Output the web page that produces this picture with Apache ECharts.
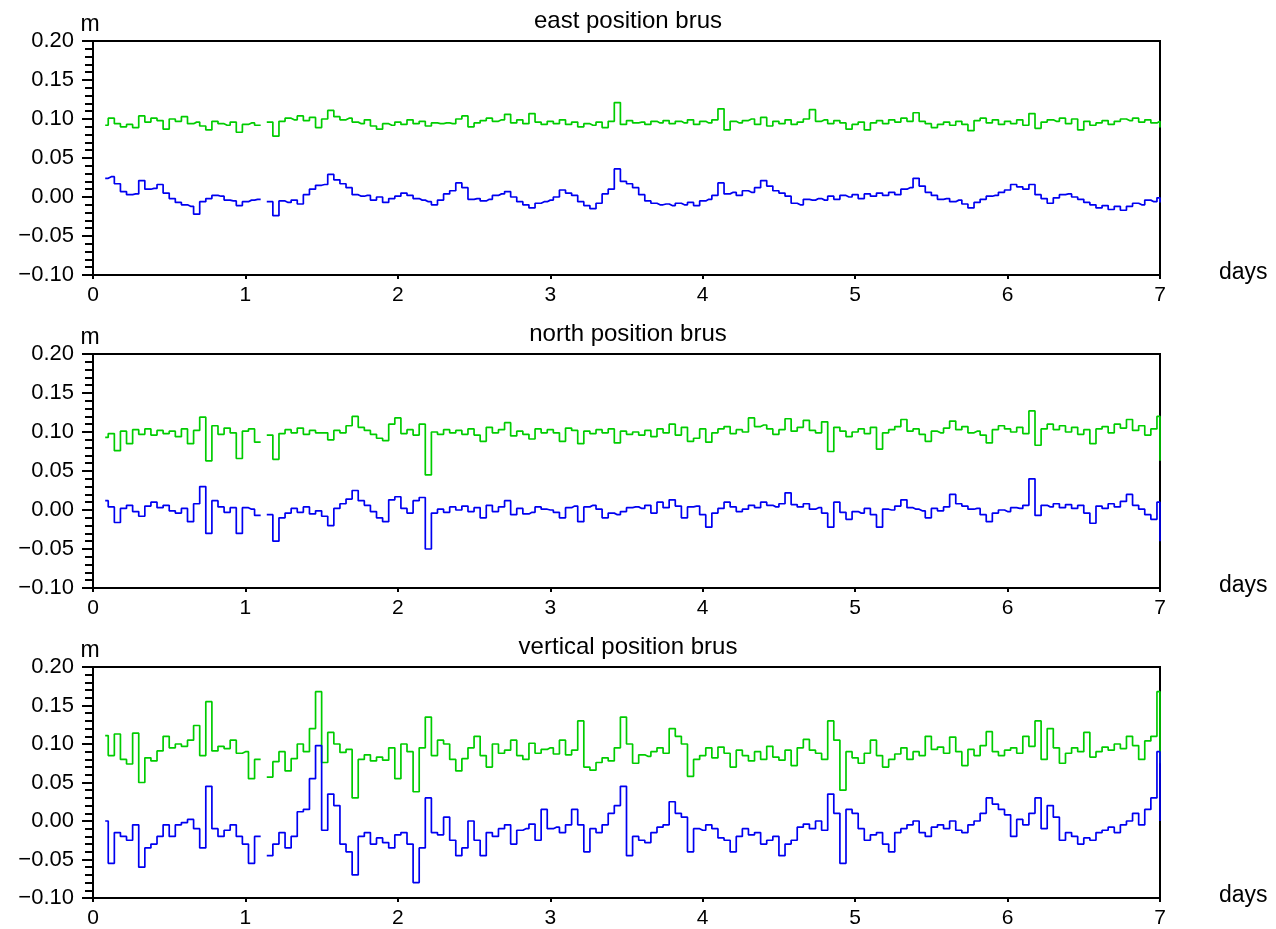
<!DOCTYPE html>
<html><head><meta charset="utf-8">
<script src="https://cdn.jsdelivr.net/npm/echarts@6/dist/echarts.min.js"></script>
<style>html,body{margin:0;padding:0;background:#fff}#c{width:1276px;height:929px}</style>
</head><body><div id="c"></div>
<script>
// Panel titles and axis labels
const panelTitles = ['east position brus', 'north position brus', 'vertical position brus'];
const xTickValues = [0, 1, 2, 3, 4, 5, 6, 7];
const yTickValues = [-0.10, -0.05, 0.00, 0.05, 0.10, 0.15, 0.20];

// Values in metres. Chunk 0 covers 0.08..0.96 d (step 0.04),
// chunks 1..6 cover d+0.00..d+0.96, last chunk holds the value(s) at 7.00 d.
const eastGreen = [
 [.092,.101,.094,.090,.093,.089,.104,.096,.101,.098,.087,.100,.097,.103,.094,.096,.091,.086,.097,.094,.092,.096,.083],
 [.093,.095,.092,null,.096,.078,.097,.101,.099,.104,.098,.102,.089,.100,.111,.103,.099,.101,.096,.094,.099,.091,.087,.094,.092],
 [.096,.093,.099,.094,.097,.091,.095,.094,.095,.094,.100,.104,.090,.095,.098,.101,.097,.099,.106,.095,.099,.094,.107,.096,.093],
 [.097,.094,.099,.093,.096,.090,.094,.092,.096,.089,.097,.121,.093,.098,.095,.096,.093,.097,.095,.098,.094,.097,.095,.099,.093],
 [.097,.095,.099,.113,.086,.097,.095,.098,.100,.093,.102,.091,.097,.094,.099,.093,.096,.100,.112,.097,.099,.094,.098,.095,.087],
 [.093,.096,.086,.095,.098,.094,.099,.096,.101,.097,.108,.097,.094,.089,.093,.096,.092,.097,.093,.085,.098,.101,.095,.099,.093],
 [.097,.094,.099,.092,.107,.088,.096,.099,.097,.101,.094,.100,.086,.097,.092,.095,.098,.093,.097,.100,.098,.101,.096,.099,.095],
 [.097,.089]
];
const eastBlue = [
 [.024,.026,.017,.007,.003,.004,.021,.010,.011,.016,.005,-.002,-.007,-.010,-.012,-.022,-.006,-.002,.002,.001,-.004,-.005,-.011],
 [-.006,-.004,-.003,null,-.006,-.024,-.005,-.007,-.004,-.009,.003,.010,.015,.016,.029,.022,.017,.012,.003,.001,.002,-.004,.000,-.007,-.002],
 [.001,.005,.002,-.002,-.004,-.006,-.010,-.004,.004,.008,.018,.012,-.003,-.002,-.005,-.003,.002,.004,.007,.000,-.006,-.010,-.014,-.008,-.006],
 [-.004,.000,.009,.005,.002,-.006,-.011,-.015,-.008,.004,.010,.036,.020,.017,.012,.003,-.005,-.008,-.010,-.009,-.011,-.008,-.010,-.007,-.011],
 [-.005,-.003,.002,.018,.004,.006,.002,.008,.006,.012,.021,.014,.008,.005,.001,-.008,-.010,-.003,-.004,-.002,-.004,.001,-.003,.002,.000],
 [.003,-.002,.004,.001,.005,.002,.006,.003,.010,.012,.024,.014,.006,.002,-.003,-.002,-.006,-.004,-.009,-.014,-.007,-.003,.001,.002,.006],
 [.009,.016,.013,.010,.016,.003,-.002,-.008,-.001,.003,.004,.000,-.003,-.007,-.010,-.014,-.011,-.016,-.012,-.017,-.012,-.008,-.010,-.004,-.006],
 [-.001,-.007]
];
const northGreen = [
 [.093,.098,.076,.101,.085,.103,.097,.104,.096,.102,.098,.101,.094,.104,.085,.102,.119,.063,.108,.097,.105,.099,.066],
 [.101,.104,.087,null,.096,.065,.098,.103,.099,.105,.097,.102,.099,.099,.090,.102,.099,.108,.120,.106,.102,.097,.092,.089,.110],
 [.118,.098,.103,.096,.110,.045,.100,.097,.103,.099,.102,.097,.104,.096,.088,.106,.099,.103,.112,.095,.101,.097,.091,.104,.099],
 [.103,.099,.088,.105,.102,.085,.101,.098,.103,.099,.104,.086,.101,.097,.100,.096,.102,.094,.104,.099,.110,.096,.106,.088,.092],
 [.104,.087,.099,.104,.107,.098,.103,.100,.118,.107,.109,.104,.097,.103,.117,.101,.106,.115,.102,.099,.113,.075,.106,.101,.094],
 [.100,.104,.098,.106,.078,.099,.103,.107,.116,.101,.104,.097,.088,.101,.099,.105,.114,.103,.107,.099,.101,.096,.086,.103,.108],
 [.104,.100,.106,.098,.127,.083,.104,.110,.103,.108,.100,.106,.097,.103,.085,.104,.107,.099,.110,.105,.116,.102,.108,.096,.104],
 [.120,.063]
];
const northBlue = [
 [.012,.004,-.016,.002,.006,-.002,-.008,.005,.010,.003,.006,-.001,-.004,.002,-.015,.008,.030,-.030,.012,.004,-.003,.003,-.030],
 [.003,.001,-.007,null,-.006,-.040,-.010,-.004,.002,-.003,.004,-.005,-.001,-.008,-.020,.002,.008,.014,.025,.012,.006,-.002,-.010,-.015,.013],
 [.017,.002,-.004,.012,.016,-.050,-.004,.001,-.003,.004,.000,.005,-.002,.003,-.010,.006,-.002,.004,.012,-.006,.002,-.005,-.003,.004,.001],
 [.000,-.003,-.010,.003,.005,-.015,.004,.006,.001,-.010,-.004,-.006,-.002,.003,.004,.002,.006,-.004,.010,.003,.013,.005,-.010,.004,.005],
 [-.006,-.022,-.004,.002,.010,.004,-.002,.001,.006,.003,.010,.006,.004,.008,.022,.007,.004,.008,.001,.003,-.004,-.022,.010,-.003,-.012],
 [-.002,-.004,.002,-.006,-.022,.001,.000,.005,.013,.003,.001,-.001,-.010,.002,-.001,.004,.020,.008,.005,.001,.002,-.006,-.015,-.004,.000],
 [-.002,.003,.002,.006,.040,-.007,.006,.004,.008,.003,.007,.002,.006,-.004,-.017,.005,.002,.008,.004,.011,.020,.006,.001,-.006,-.012],
 [.010,-.040]
];
const verticalGreen = [
 [.111,.085,.113,.080,.074,.114,.050,.082,.078,.091,.110,.095,.100,.097,.105,.124,.085,.155,.091,.097,.094,.105,.088],
 [.090,.055,.080,null,.057,.077,.090,.065,.081,.100,.090,.120,.168,.076,.115,.100,.089,.093,.030,.080,.086,.078,.083,.079,.095],
 [.055,.100,.090,.038,.095,.135,.085,.105,.100,.080,.065,.081,.095,.110,.085,.070,.100,.088,.092,.105,.085,.080,.101,.088,.093],
 [.095,.087,.105,.086,.092,.130,.070,.066,.076,.082,.078,.095,.135,.100,.075,.086,.084,.090,.095,.088,.120,.110,.100,.058,.080],
 [.085,.095,.082,.096,.088,.070,.092,.085,.078,.090,.080,.097,.083,.079,.092,.072,.095,.106,.092,.088,.080,.130,.105,.040,.090],
 [.082,.075,.088,.105,.085,.070,.080,.087,.095,.080,.090,.085,.110,.093,.096,.088,.109,.090,.072,.093,.085,.098,.116,.090,.085],
 [.092,.095,.088,.110,.097,.130,.080,.120,.095,.075,.088,.095,.090,.115,.083,.090,.096,.092,.100,.094,.110,.098,.080,.104,.110],
 [.168,.075]
];
const verticalBlue = [
 [.000,-.055,-.015,-.020,-.025,-.005,-.060,-.035,-.030,-.020,-.005,-.020,-.005,-.002,.002,-.010,-.035,.045,-.010,-.020,-.012,-.005,-.020],
 [-.030,-.055,-.020,null,-.045,-.030,-.015,-.035,-.020,.012,.015,.055,.098,-.012,.035,.020,-.030,-.040,-.070,-.020,-.015,-.030,-.022,-.028,-.035],
 [-.018,-.015,-.030,-.080,-.035,.030,-.015,-.018,.005,-.025,-.045,-.035,.000,-.025,-.045,-.015,-.020,-.010,-.005,-.030,-.012,-.010,-.004,-.025,.015],
 [-.010,-.008,-.015,-.005,.015,-.005,-.040,-.010,-.015,-.005,.010,.020,.045,-.045,-.020,-.025,-.028,-.015,-.008,-.005,.025,.010,.005,-.040,-.010],
 [-.012,-.005,-.010,-.022,-.025,-.040,-.020,-.010,-.018,-.015,-.030,-.025,-.020,-.045,-.030,-.025,-.008,-.004,-.010,.000,-.012,.035,.010,-.055,.015],
 [.010,-.010,-.025,-.018,-.015,-.030,-.040,-.015,-.010,-.005,.000,-.015,-.020,-.008,-.005,-.010,.000,-.012,-.015,-.005,.000,.010,.030,.022,.015],
 [.008,-.020,.002,-.005,.010,.030,-.010,.020,.005,-.025,-.015,-.020,-.030,-.022,-.025,-.015,-.012,-.008,-.015,-.005,.000,.010,-.005,.015,.030],
 [.090,.000]
];

const panelSeries = [[eastGreen, eastBlue], [northGreen, northBlue], [verticalGreen, verticalBlue]];

// sampling grid: chunk 0 starts at 0.08 d, other chunks at whole days, 0.04 d step
function toPairs(chunks) {
  const out = [];
  const last = chunks.length - 1;
  chunks.forEach((ch, d) => {
    ch.forEach((v, k) => {
      let t;
      if (d === last) t = 7;
      else if (d === 0) t = 0.08 + 0.04 * k;
      else t = d + 0.04 * k;
      out.push([Math.round(t * 100) / 100, v]);
    });
  });
  return out;
}

const FONT = 'Liberation Sans, Arial, sans-serif';
const tops = [41, 354, 667];
const H = 234;
const colors = ['#00cc00', '#0000f0'];

const grids = [], xAxes = [], yAxes = [], series = [], graphics = [];
tops.forEach((top, i) => {
  grids.push({left: 93, right: 116, top: top, height: H, show: true,
    borderColor: '#000', borderWidth: 2, backgroundColor: 'transparent', containLabel: false});
  xAxes.push({
    gridIndex: i, type: 'value', min: xTickValues[0], max: xTickValues[xTickValues.length - 1], interval: 1,
    axisLine: {show: true, onZero: false, lineStyle: {color: '#000', width: 2}},
    axisTick: {show: true, inside: false, length: 4, lineStyle: {color: '#000', width: 2}},
    axisLabel: {color: '#000', fontSize: 21, fontFamily: FONT, margin: 10},
    splitLine: {show: false},
    name: 'days', nameLocation: 'end', nameGap: 59,
    nameTextStyle: {color: '#000', fontSize: 23, fontFamily: FONT, verticalAlign: 'bottom', padding: [0, 0, -9, 0]}
  });
  yAxes.push({
    gridIndex: i, type: 'value', min: yTickValues[0], max: yTickValues[yTickValues.length - 1], interval: 0.05,
    axisLine: {show: true, onZero: false, lineStyle: {color: '#000', width: 2}},
    axisTick: {show: true, inside: false, length: 11, lineStyle: {color: '#000', width: 2}},
    minorTick: {show: true, splitNumber: 5, length: 8, lineStyle: {color: '#000', width: 2}},
    axisLabel: {color: '#000', fontSize: 22, fontFamily: FONT, margin: 19,
      formatter: v => (Math.abs(v) < 1e-9 ? '0.00' : (v < 0 ? '\u2212' : '') + Math.abs(v).toFixed(2))},
    splitLine: {show: false},
    name: 'm', nameLocation: 'end', nameGap: 5,
    nameTextStyle: {color: '#000', fontSize: 23, fontFamily: FONT, padding: [0, 6, 0, 0]}
  });
  panelSeries[i].forEach((chunks, j) => {
    series.push({
      type: 'line', xAxisIndex: i, yAxisIndex: i, data: toPairs(chunks), step: 'middle',
      showSymbol: false, symbol: 'none', connectNulls: false,
      lineStyle: {color: colors[j], width: 1.7}, itemStyle: {color: colors[j]},
      animation: false, silent: true
    });
  });
  graphics.push({type: 'text', x: 628, y: top - 20,
    style: {text: panelTitles[i], fill: '#000', font: '24px ' + FONT, textAlign: 'center', textVerticalAlign: 'middle'}});
});

const chart = echarts.init(document.getElementById('c'), null, {renderer: 'canvas'});
chart.setOption({
  backgroundColor: '#fff',
  animation: false,
  grid: grids, xAxis: xAxes, yAxis: yAxes, series: series,
  graphic: graphics
});
</script></body></html>
